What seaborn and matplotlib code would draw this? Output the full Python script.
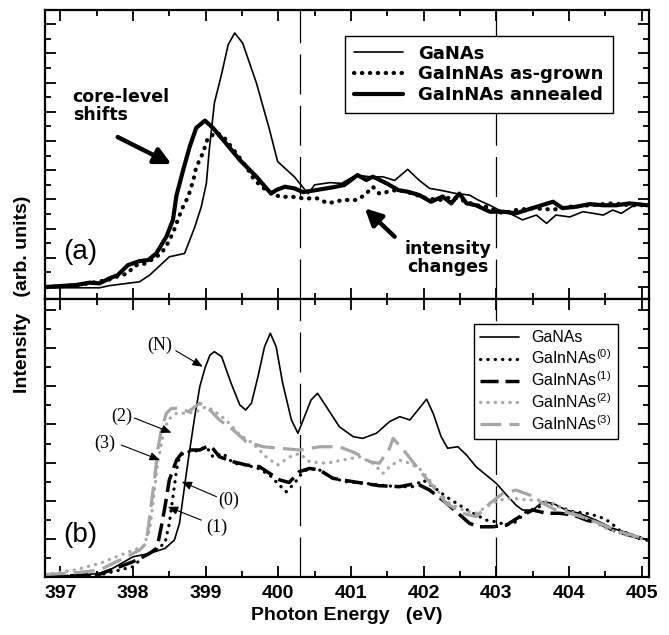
import matplotlib
matplotlib.use('Agg')
import matplotlib.pyplot as plt
from matplotlib.ticker import MultipleLocator, NullFormatter
import seaborn as sns

# ---- panel (a): N 1s XAS (eV, arb. units)
top_e_ganas = [396.79, 397.54, 397.68, 398.09, 398.23, 398.50, 398.71, 398.85, 398.94, 399.01,
               399.05, 399.12, 399.22, 399.31, 399.40, 399.51, 399.70, 399.88, 399.99, 400.22,
               400.41, 400.50, 400.71, 400.87, 401.07, 401.26, 401.44, 401.60, 401.78, 401.94,
               402.08, 402.26, 402.45, 402.63, 402.75, 402.91, 403.04, 403.18, 403.36, 403.55,
               403.69, 403.82, 404.01, 404.19, 404.33, 404.47, 404.60, 404.72, 404.86, 404.97,
               405.08]
top_v_ganas = [-0.05, -0.05, 0.1, 0.36, 0.82, 2.07, 2.3, 4.1, 5.5, 7.1,
               9.4, 12.6, 14.6, 16.6, 17.4, 16.7, 13.95, 10.75, 8.6, 7.55,
               6.4, 7.0, 7.15, 7.1, 7.67, 7.55, 7.55, 7.3, 8.06, 7.3,
               6.76, 6.6, 6.4, 6.3, 5.96, 5.6, 5.27, 5.05, 4.6, 4.93,
               4.36, 4.93, 4.8, 5.16, 5.05, 4.93, 5.27, 5.05, 5.5, 5.73,
               5.6]

top_e_grown = [396.81, 397.24, 397.38, 397.66, 397.77, 397.93, 398.02, 398.18, 398.39, 398.48,
               398.55, 398.67, 398.76, 398.83, 398.87, 398.96, 399.03, 399.15, 399.26, 399.42,
               399.56, 399.67, 399.83, 400.02, 400.20, 400.34, 400.54, 400.68, 400.89, 401.09,
               401.21, 401.30, 401.39, 401.62, 401.76, 401.90, 402.04, 402.22, 402.40, 402.59,
               402.72, 402.86, 403.09, 403.27, 403.50, 403.78, 404.01, 404.28, 404.60, 404.83,
               405.08]
top_v_grown = [0.0, 0.14, 0.25, 0.48, 0.7, 0.94, 1.46, 1.62, 2.3, 3.0,
               3.7, 5.3, 6.2, 7.3, 8.2, 9.16, 10.2, 10.6, 10.2, 9.16,
               8.24, 7.33, 6.64, 6.18, 6.18, 6.07, 6.07, 5.73, 5.96, 5.96,
               6.4, 6.87, 6.4, 6.64, 6.53, 6.3, 6.07, 5.96, 6.18, 5.84,
               5.6, 5.5, 5.05, 5.27, 5.4, 5.3, 5.5, 5.6, 5.73, 5.6,
               5.6]

top_e_anneal = [396.79, 397.22, 397.40, 397.54, 397.68, 397.79, 397.93, 398.09, 398.21, 398.32,
                398.46, 398.55, 398.60, 398.69, 398.78, 398.87, 398.99, 399.10, 399.28, 399.47,
                399.70, 399.90, 399.97, 400.09, 400.22, 400.34, 400.52, 400.75, 400.91, 401.09,
                401.21, 401.30, 401.49, 401.65, 401.78, 401.94, 402.10, 402.26, 402.38, 402.49,
                402.59, 402.72, 402.91, 403.09, 403.27, 403.41, 403.59, 403.78, 403.91, 404.10,
                404.28, 404.47, 404.65, 404.83, 405.08]
top_v_anneal = [0.0, 0.14, 0.3, 0.25, 0.6, 0.82, 1.5, 1.78, 1.85, 2.3,
                3.45, 4.6, 6.3, 8.0, 9.6, 10.9, 11.4, 10.9, 9.84, 8.7,
                7.55, 6.4, 6.64, 6.87, 6.76, 6.5, 6.64, 6.83, 6.99, 7.67,
                7.33, 7.56, 7.1, 6.64, 6.53, 6.3, 5.84, 6.2, 5.73, 6.4,
                5.73, 5.6, 5.16, 5.16, 5.05, 5.27, 5.55, 5.84, 5.4, 5.5,
                5.68, 5.6, 5.6, 5.73, 5.6]

# ---- panel (b)
bot_e_ganas = [396.79, 397.20, 397.54, 397.72, 398.00, 398.23, 398.44, 398.57, 398.64, 398.69,
               398.76, 398.85, 398.92, 398.99, 399.06, 399.12, 399.22, 399.35, 399.47, 399.55,
               399.63, 399.72, 399.81, 399.89, 399.97, 400.06, 400.18, 400.27, 400.36, 400.45,
               400.54, 400.66, 400.84, 401.03, 401.16, 401.35, 401.53, 401.67, 401.81, 401.92,
               402.04, 402.13, 402.24, 402.33, 402.47, 402.59, 402.72, 402.86, 403.00, 403.14,
               403.27, 403.36, 403.50, 403.64, 403.78, 403.96, 404.14, 404.37, 404.60, 404.83,
               405.08]
bot_v_ganas = [0.0, 0.05, 0.17, 0.43, 1.04, 1.22, 1.48, 1.92, 2.8, 4.2,
               6.13, 8.41, 10.0, 10.96, 11.66, 11.83, 11.57, 10.17, 9.03, 8.76,
               9.12, 10.52, 12.09, 12.8, 12.09, 10.17, 8.24, 7.54, 8.41, 9.29,
               9.64, 8.94, 7.88, 7.36, 7.27, 7.54, 8.15, 8.41, 8.24, 8.76,
               9.33, 8.59, 7.36, 6.75, 6.83, 6.39, 5.78, 5.34, 4.9, 4.29,
               3.76, 3.5, 3.5, 3.94, 3.85, 3.5, 3.33, 2.97, 2.54, 2.27,
               1.92]

bot_e_in0 = [396.79, 397.20, 397.54, 398.00, 398.14, 398.30, 398.44, 398.50, 398.55, 398.60,
             398.64, 398.69, 398.74, 398.83, 398.92, 399.01, 399.10, 399.24, 399.38, 399.56,
             399.72, 399.88, 399.99, 400.11, 400.22, 400.34, 400.43, 400.57, 400.75, 400.94,
             401.21, 401.39, 401.62, 401.85, 401.99, 402.13, 402.31, 402.49, 402.68, 402.86,
             403.00, 403.14, 403.27, 403.41, 403.59, 403.69, 403.87, 404.06, 404.24, 404.42,
             404.56, 404.69, 404.87, 405.08]
bot_v_in0 = [0.0, 0.03, 0.08, 0.52, 1.04, 1.39, 1.75, 2.8, 4.2, 5.6,
             6.3, 6.48, 6.57, 6.57, 6.66, 6.83, 6.3, 6.48, 5.96, 5.87,
             5.69, 5.34, 4.9, 4.46, 4.9, 5.52, 5.69, 5.6, 5.17, 4.99,
             4.9, 4.82, 4.73, 4.73, 5.08, 4.73, 4.2, 3.76, 3.33, 2.97,
             2.88, 2.71, 2.88, 3.41, 3.67, 3.94, 3.67, 3.41, 3.33, 3.15,
             2.88, 2.45, 2.18, 1.92]

bot_e_in1 = [396.79, 397.20, 397.54, 398.00, 398.23, 398.33, 398.39, 398.44, 398.50, 398.60,
             398.67, 398.76, 398.92, 399.01, 399.08, 399.19, 399.38, 399.56, 399.74, 399.88,
             400.02, 400.15, 400.29, 400.43, 400.57, 400.75, 401.03, 401.39, 401.67, 401.90,
             402.08, 402.26, 402.45, 402.63, 402.77, 402.95, 403.14, 403.32, 403.50, 403.69,
             403.87, 404.06, 404.24, 404.42, 404.60, 404.83, 405.08]
bot_v_in1 = [0.0, 0.05, 0.12, 0.78, 1.22, 1.5, 2.62, 3.67, 5.08, 6.13,
             6.48, 6.66, 6.66, 6.83, 6.83, 6.3, 6.04, 5.87, 5.78, 5.43,
             5.08, 4.95, 5.52, 5.69, 5.6, 5.17, 4.99, 4.78, 4.73, 4.9,
             4.55, 4.03, 3.41, 2.8, 2.62, 2.62, 2.71, 3.15, 3.5, 3.33,
             3.33, 3.24, 2.97, 2.8, 2.45, 2.18, 1.92]

bot_e_in2 = [396.79, 397.20, 397.54, 397.77, 398.00, 398.14, 398.23, 398.28, 398.34, 398.41,
             398.48, 398.60, 398.73, 398.87, 399.01, 399.10, 399.28, 399.47, 399.65, 399.83,
             399.99, 400.16, 400.29, 400.43, 400.66, 400.89, 401.12, 401.30, 401.44, 401.53,
             401.67, 401.81, 401.94, 402.08, 402.22, 402.36, 402.54, 402.72, 402.86, 403.04,
             403.23, 403.41, 403.59, 403.78, 403.96, 404.14, 404.33, 404.51, 404.78, 405.08]
bot_v_in2 = [0.1, 0.35, 0.69, 1.04, 1.39, 1.57, 2.45, 4.03, 5.96, 7.36,
             8.24, 8.59, 8.59, 8.67, 8.94, 8.76, 8.24, 7.45, 7.01, 6.3,
             5.87, 6.3, 6.48, 6.04, 5.96, 6.13, 6.3, 5.96, 5.43, 5.78,
             6.13, 5.96, 5.69, 5.08, 4.38, 3.85, 3.5, 3.33, 3.67, 4.03,
             4.12, 4.03, 4.03, 3.85, 3.5, 3.24, 2.88, 2.54, 2.18, 1.92]

bot_e_in3 = [396.79, 397.20, 397.54, 397.82, 398.09, 398.18, 398.23, 398.30, 398.34, 398.39,
             398.46, 398.53, 398.67, 398.76, 398.92, 399.06, 399.19, 399.38, 399.56, 399.79,
             400.02, 400.29, 400.57, 400.84, 401.07, 401.26, 401.39, 401.53, 401.58, 401.76,
             401.94, 402.13, 402.31, 402.54, 402.72, 402.91, 403.09, 403.27, 403.46, 403.64,
             403.82, 404.01, 404.24, 404.42, 404.69, 405.08]
bot_v_in3 = [0.1, 0.2, 0.34, 0.87, 1.39, 1.75, 3.15, 5.25, 6.66, 7.71,
             8.59, 8.85, 8.85, 8.67, 9.12, 8.76, 8.24, 7.71, 7.09, 6.83,
             6.75, 6.66, 6.83, 6.83, 6.48, 6.04, 5.96, 6.75, 7.27, 6.48,
             5.6, 4.73, 3.85, 3.33, 3.15, 3.85, 4.38, 4.55, 4.29, 3.85,
             3.5, 3.33, 3.06, 2.8, 2.36, 1.96]

edge_lines = [400.3, 403.0]
gray = '#a6a6a6'

sns.set_style('ticks')
plt.rcParams['font.family'] = ['Liberation Sans', 'DejaVu Sans']
plt.rcParams['mathtext.fontset'] = 'custom'
plt.rcParams['mathtext.rm'] = 'Liberation Sans'
plt.rcParams['mathtext.it'] = 'Liberation Sans:italic'
plt.rcParams['axes.linewidth'] = 1.6
for key in ['text.color', 'axes.labelcolor', 'axes.edgecolor', 'xtick.color', 'ytick.color']:
    plt.rcParams[key] = 'black'

fig = plt.figure(figsize=(6.69, 6.35), dpi=100)
ax_a = fig.add_axes([0.0673, 0.5291, 0.9028, 0.4551])
ax_b = fig.add_axes([0.0673, 0.0920, 0.9028, 0.4371], sharex=ax_a)

dots = dict(dash_capstyle='round', solid_capstyle='round')

sns.lineplot(x=top_e_ganas, y=top_v_ganas, ax=ax_a, color='k', lw=1.2,
             estimator=None, label='GaNAs')
sns.lineplot(x=top_e_grown, y=top_v_grown, ax=ax_a, color='k', lw=3,
             linestyle=(0, (0.1, 1.8)), estimator=None, label='GaInNAs as-grown', **dots)
sns.lineplot(x=top_e_anneal, y=top_v_anneal, ax=ax_a, color='k', lw=3,
             estimator=None, label='GaInNAs annealed')

sns.lineplot(x=bot_e_ganas, y=bot_v_ganas, ax=ax_b, color='k', lw=1.2,
             estimator=None, label='GaNAs')
sns.lineplot(x=bot_e_in0, y=bot_v_in0, ax=ax_b, color='k', lw=2.3,
             linestyle=(0, (0.1, 2.2)), estimator=None, label='GaInNAs$^{(0)}$', **dots)
sns.lineplot(x=bot_e_in1, y=bot_v_in1, ax=ax_b, color='k', lw=2.5,
             linestyle=(0, (5.2, 2.0)), estimator=None, label='GaInNAs$^{(1)}$')
sns.lineplot(x=bot_e_in2, y=bot_v_in2, ax=ax_b, color=gray, lw=2.3,
             linestyle=(0, (0.1, 2.2)), estimator=None, label='GaInNAs$^{(2)}$', **dots)
sns.lineplot(x=bot_e_in3, y=bot_v_in3, ax=ax_b, color=gray, lw=2.3,
             linestyle=(0, (6.5, 2.6)), estimator=None, label='GaInNAs$^{(3)}$')

for ax in (ax_a, ax_b):
    for e in edge_lines:
        ax.axvline(e, color='k', lw=0.9, linestyle=(0, (32, 9)), zorder=0)
    ax.xaxis.set_major_locator(MultipleLocator(1))
    ax.xaxis.set_minor_locator(MultipleLocator(0.5))
    ax.yaxis.set_major_locator(MultipleLocator(2))
    ax.yaxis.set_minor_locator(MultipleLocator(1))
    ax.yaxis.set_major_formatter(NullFormatter())
    ax.tick_params(which='both', direction='in', top=True, right=True, width=1.3)
    ax.tick_params(which='major', length=8)
    ax.tick_params(which='minor', length=4)
    ax.set_ylabel('')

ax_a.set_xlim(396.79, 405.1)
ax_a.set_ylim(-0.82, 18.97)
ax_b.set_ylim(0, 14.6)
ax_a.tick_params(labelbottom=False)
for lab in ax_b.get_xticklabels():
    lab.set_fontweight('bold')
    lab.set_fontsize(14)
ax_b.tick_params(axis='x', pad=6)
ax_b.set_xlabel('Photon Energy   (eV)', fontsize=14, fontweight='bold', labelpad=4)
fig.text(0.033, 0.537, 'Intensity   (arb. units)', rotation=90, ha='center', va='center',
         fontsize=14, fontweight='bold')

leg_a = ax_a.legend(loc='upper left', bbox_to_anchor=(0.497, 0.911), borderaxespad=0,
                    prop={'family': 'DejaVu Sans', 'weight': 'bold', 'size': 13},
                    handlelength=2.7, handletextpad=0.85, labelspacing=0.15, borderpad=0.5,
                    fancybox=False, framealpha=1, edgecolor='k')
leg_a.get_frame().set_linewidth(1.0)
leg_b = ax_b.legend(loc='upper left', bbox_to_anchor=(0.710, 0.91), borderaxespad=0,
                    prop={'family': 'Liberation Sans', 'size': 11.5},
                    handlelength=2.4, handletextpad=0.8, labelspacing=0.2, borderpad=0.4,
                    fancybox=False, framealpha=1, edgecolor='k')
leg_b.get_frame().set_linewidth(1.0)

# panel labels and annotations
ax_a.text(397.27, 2.4, '(a)', fontsize=20, ha='center', va='center')
ax_b.text(397.27, 2.18, '(b)', fontsize=20, ha='center', va='center')

bold_txt = dict(family='DejaVu Sans', fontweight='bold', fontsize=12.5)
big_arrow = dict(arrowstyle='-|>,head_length=1.0,head_width=0.5', color='k', lw=3.2,
                 shrinkA=0, shrinkB=0)
ax_a.text(397.17, 12.4, 'core-level\nshifts', ha='left', va='center', linespacing=1.0, **bold_txt)
ax_a.annotate('', xy=(398.53, 8.42), xytext=(397.79, 10.27), arrowprops=big_arrow)
ax_a.text(402.34, 1.99, 'intensity\nchanges', ha='center', va='center', linespacing=1.0, **bold_txt)
ax_a.annotate('', xy=(401.19, 5.39), xytext=(401.60, 3.45), arrowprops=big_arrow)

thin_arrow = dict(arrowstyle='-|>,head_length=0.6,head_width=0.25', color='k', lw=0.8,
                  shrinkA=0, shrinkB=0)
serif = dict(family='Liberation Serif', fontsize=13, ha='center', va='center')
marks = [('(N)', (398.37, 12.18), (398.59, 11.88), (398.96, 11.04)),
         ('(2)', (397.84, 8.45), (398.02, 8.34), (398.53, 7.57)),
         ('(3)', (397.61, 7.03), (397.84, 6.92), (398.37, 6.13)),
         ('(0)', (399.32, 4.03), (399.15, 4.20), (398.67, 4.99)),
         ('(1)', (399.15, 2.60), (398.94, 2.97), (398.48, 3.67))]
for txt, pos, tail, head in marks:
    ax_b.text(pos[0], pos[1], txt, **serif)
    ax_b.annotate('', xy=head, xytext=tail, arrowprops=thin_arrow)

plt.savefig('out.png', dpi=100)
